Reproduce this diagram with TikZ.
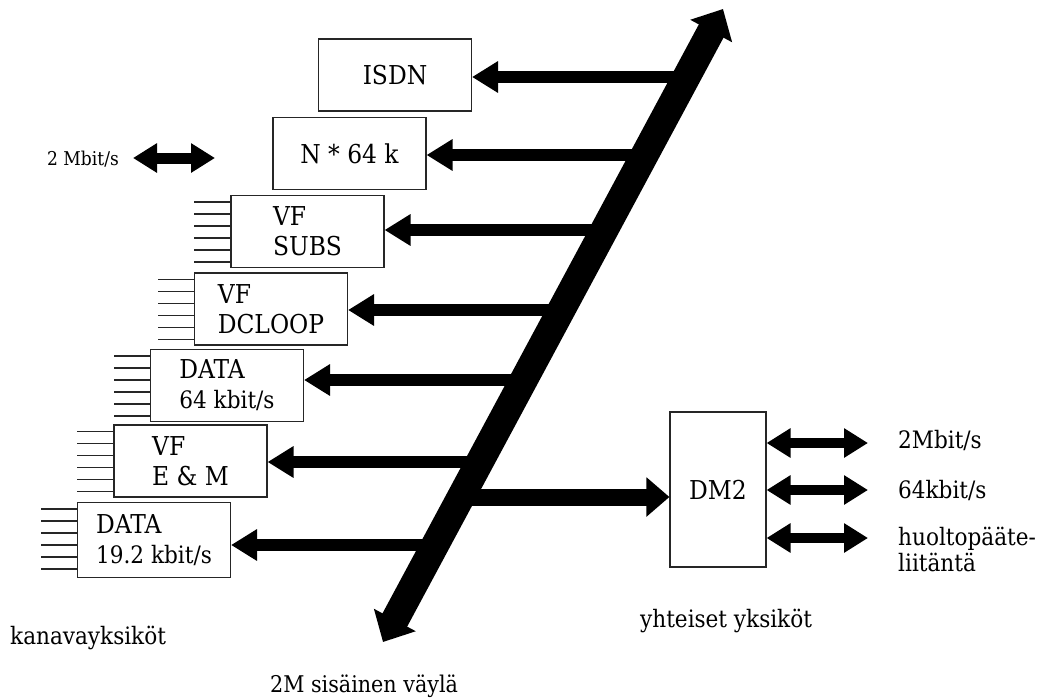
\documentclass[tikz,border=0pt]{standalone}
\usepackage{fontspec}
\setmainfont{DejaVu Serif Condensed}
\usetikzlibrary{arrows.meta}
\begin{document}
\begin{tikzpicture}[x=1pt,y=-1pt,
  unit/.style={draw=black!85, line width=1.1pt, minimum width=153pt, minimum height=72pt,
    inner sep=0pt, align=left, font=\fontsize{26}{30}\selectfont},
  stub/.style={draw=black!85, line width=1.1pt},
  lbl/.style={font=\fontsize{24}{26}\selectfont, inner sep=0pt, align=left},
  bus/.style={line width=28pt,
    {Triangle[length=25pt,width=46pt]}-{Triangle[length=25pt,width=46pt]}},
  branch/.style={line width=12pt, -{Triangle[length=26pt,width=30pt]}},
  io/.style={line width=10pt,
    {Triangle[length=24pt,width=28pt]}-{Triangle[length=24pt,width=28pt]}},
]
\useasboundingbox (0,0) rectangle (1044,697);
\fill[white] (0,0) rectangle (1044,697);

% channel units
\node[unit] (isdn) at (395,75) {ISDN};
\node[unit] (n64) at (349.5,153.5) {N * 64 k};
\node[unit] (subs) at (307.5,231.5) {VF\\SUBS};
\node[unit] (dcl) at (271,309) {VF\\DCLOOP};
\node[unit] (d64) at (227,385.5) {DATA\\{\fontsize{24}{30}\selectfont 64 kbit/s}};
\node[unit] (em) at (190.5,461) {VF\\E \& M};
\node[unit, minimum height=75pt] (d19) at (154,540) {DATA\\{\fontsize{24}{30}\selectfont 19.2 kbit/s}};
\node[unit, minimum width=96pt, minimum height=155pt] (dm2) at (718,489.5) {DM2};

% line stubs
\foreach \b in {subs,dcl,d64,em,d19}
  \foreach \i in {0,...,5}
    \draw[stub] ([yshift={-(7+12*\i)}]\b.north west) -- ++(-36,0);

% bus
\coordinate (busA) at (383,642);
\coordinate (busB) at (723,9);
\draw[bus] (busA) -- (busB);

% branch points on bus
\coordinate (b1) at (686.4,77);
\coordinate (b2) at (644.5,155);
\coordinate (b3) at (604.2,230);
\coordinate (b4) at (561.3,310);
\coordinate (b5) at (523.7,380);
\coordinate (b6) at (479.7,462);
\coordinate (b7) at (435.1,545);
\coordinate (bd) at (460.9,497);

\draw[branch] (b1) -- (b1 -| isdn.east);
\draw[branch] (b2) -- (b2 -| n64.east);
\draw[branch] (b3) -- (b3 -| subs.east);
\draw[branch] (b4) -- (b4 -| dcl.east);
\draw[branch] (b5) -- (b5 -| d64.east);
\draw[branch] (b6) -- (b6 -| em.east);
\draw[branch] (b7) -- (b7 -| d19.east);
\draw[line width=17pt, -{Triangle[length=23pt,width=38pt]}] (bd) -- (bd -| dm2.west);

% DM2 interfaces
\node[lbl, anchor=base west] (r1) at (898,448) {2Mbit/s};
\node[lbl, anchor=base west] (r2) at (898,498) {64kbit/s};
\node[lbl, anchor=north west] (r3) at (898,527) {huoltopääte-\\liitäntä};
\coordinate (e1) at (868,443);
\coordinate (e2) at (868,490);
\coordinate (e3) at (868,538);
\draw[io] (e1 -| dm2.east) -- (e1);
\draw[io] (e2 -| dm2.east) -- (e2);
\draw[io] (e3 -| dm2.east) -- (e3);

% 2 Mbit/s left
\node[font=\fontsize{19}{22}\selectfont, inner sep=0pt, anchor=base west] (lm) at (47,165) {2 Mbit/s};
\coordinate (la) at (133,158);
\coordinate (lb) at (215,158);
\draw[io, line width=11pt] (la) -- (lb);

% captions
\node[lbl, anchor=base west] (kan) at (10,644) {kanavayksiköt};
\node[lbl, font=\fontsize{23}{25}\selectfont, anchor=base west] (sis) at (270,692) {2M sisäinen väylä};
\node[lbl, anchor=base west] (yht) at (640,627) {yhteiset yksiköt};
\end{tikzpicture}
\end{document}
